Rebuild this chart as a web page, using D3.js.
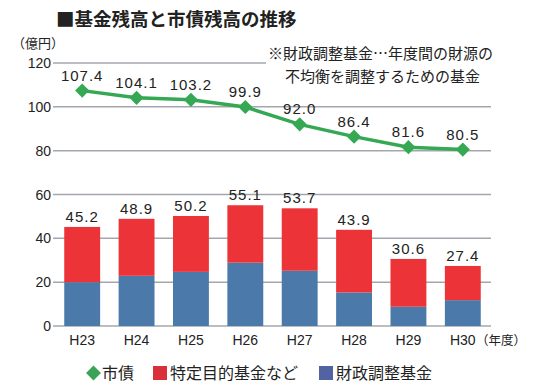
<!DOCTYPE html>
<html><head><meta charset="utf-8">
<script src="https://cdn.jsdelivr.net/npm/d3@7"></script>
<style>
html,body{margin:0;padding:0;background:#fff;}
svg{display:block;}
</style>
</head><body>
<script>
const categories = ["H23","H24","H25","H26","H27","H28","H29","H30"];
const bondValues = [107.4,104.1,103.2,99.9,92.0,86.4,81.6,80.5];      // 市債
const adjustFund = [20.0,22.9,24.7,28.9,25.2,15.3,8.8,11.8];          // 財政調整基金
const fundTotals = [45.2,48.9,50.2,55.1,53.7,43.9,30.6,27.4];         // 基金合計
const specificFund = fundTotals.map((t,i)=>+(t-adjustFund[i]).toFixed(1)); // 特定目的基金など
const yTicks = [0,20,40,60,80,100,120];

const W=536,H=392;
const numFont = "'Liberation Sans Narrow','Liberation Sans',Arial,sans-serif";
const jpFont = "'Noto Sans CJK JP','Noto Sans CJK SC',sans-serif";
const C = {green:"#34a853", red:"#ec3338", blue:"#4b79aa", grid:"#a3a7ad",
           legRed:"#d9303b", legBlue:"#5362a2", legGreen:"#3aa356"};

const svg = d3.select("body").append("svg").attr("width",W).attr("height",H);

const x = d3.scaleBand().domain(categories).range([55,490]).paddingInner(0.34).paddingOuter(0.17);
const y = d3.scaleLinear().domain([0,120]).range([326,63]);

// gridlines
svg.append("g").selectAll("line").data(yTicks).join("line")
  .attr("x1",53).attr("x2",491)
  .attr("y1",d=>y(d)).attr("y2",d=>y(d))
  .attr("stroke",C.grid).attr("stroke-width",1.5);

// y tick labels
svg.append("g").selectAll("text").data(yTicks).join("text")
  .attr("x",51).attr("y",d=>y(d)+5)
  .attr("text-anchor","end")
  .style("font-family",numFont).style("font-size","14px").attr("fill","#222")
  .text(d=>d);

// unit label
svg.append("text").attr("x",12).attr("y",48)
  .style("font-family",jpFont).style("font-size","13px").attr("fill","#222")
  .text("（億円）");

// title
svg.append("text").attr("x",56).attr("y",26)
  .style("font-family",jpFont).style("font-size","18.5px").style("font-weight","bold").attr("fill","#222")
  .text("■基金残高と市債残高の推移");

// annotation with white background (covers part of 120 gridline)
svg.append("rect").attr("x",266).attr("y",42).attr("width",260).attr("height",44).attr("fill","#fff");
const ann = svg.append("text").style("font-family",jpFont).style("font-size","15px").attr("fill","#222");
ann.append("tspan").attr("x",268).attr("y",59).text("※財政調整基金…年度間の財源の");
ann.append("tspan").attr("x",285).attr("y",81.5).text("不均衡を調整するための基金");

// stacked bars
const stackData = categories.map((c,i)=>({cat:c, adjust:adjustFund[i], specific:specificFund[i]}));
const series = d3.stack().keys(["adjust","specific"])(stackData);
const colors = {adjust:C.blue, specific:C.red};
svg.append("g").selectAll("g").data(series).join("g")
  .attr("fill",s=>colors[s.key])
  .selectAll("rect").data(s=>s).join("rect")
  .attr("x",d=>x(d.data.cat)).attr("width",x.bandwidth())
  .attr("y",d=>y(d[1])).attr("height",d=>y(d[0])-y(d[1]));

// bar total labels
svg.append("g").selectAll("text").data(categories).join("text")
  .attr("x",c=>x(c)+x.bandwidth()/2).attr("y",(c,i)=>y(fundTotals[i])-5)
  .attr("text-anchor","middle")
  .style("font-family",numFont).style("font-size","15px").style("letter-spacing","1px").attr("fill","#222")
  .text((c,i)=>fundTotals[i].toFixed(1));

// line
const cx = c=>x(c)+x.bandwidth()/2;
svg.append("path").datum(bondValues)
  .attr("fill","none").attr("stroke",C.green).attr("stroke-width",3.5)
  .attr("d",d3.line().x((d,i)=>cx(categories[i])).y(d=>y(d)));
svg.append("g").selectAll("path").data(bondValues).join("path")
  .attr("d",d3.symbol().type(d3.symbolSquare).size(100))
  .attr("transform",(d,i)=>`translate(${cx(categories[i])},${y(d)}) rotate(45)`)
  .attr("fill",C.green);
svg.append("g").selectAll("text").data(bondValues).join("text")
  .attr("x",(d,i)=>cx(categories[i])).attr("y",d=>y(d)-10)
  .attr("text-anchor","middle")
  .style("font-family",numFont).style("font-size","15px").style("letter-spacing","1px").attr("fill","#222")
  .text(d=>d.toFixed(1));

// x labels
svg.append("g").selectAll("text").data(categories).join("text")
  .attr("x",c=>cx(c)).attr("y",345)
  .attr("text-anchor","middle")
  .style("font-family",numFont).style("font-size","14px").attr("fill","#222")
  .text(c=>c);
svg.append("text").attr("x",476).attr("y",345)
  .style("font-family",jpFont).style("font-size","12.5px").attr("fill","#222")
  .text("（年度）");

// legend
const legend = [
  {label:"市債", color:C.legGreen, type:"diamond", x:86},
  {label:"特定目的基金など", color:C.legRed, type:"square", x:153},
  {label:"財政調整基金", color:C.legBlue, type:"square", x:319}
];
const lg = svg.append("g").selectAll("g").data(legend).join("g")
  .attr("transform",d=>`translate(${d.x},373)`);
lg.filter(d=>d.type==="square").append("rect")
  .attr("x",0).attr("y",-7).attr("width",14).attr("height",14).attr("fill",d=>d.color);
lg.filter(d=>d.type==="diamond").append("path")
  .attr("d",d3.symbol().type(d3.symbolSquare).size(110))
  .attr("transform","translate(7.5,0) rotate(45)").attr("fill",d=>d.color);
lg.append("text").attr("x",d=>d.type==="diamond"?16:17).attr("y",6)
  .style("font-family",jpFont).style("font-size","16px").attr("fill","#222")
  .text(d=>d.label);
</script>
</body></html>
